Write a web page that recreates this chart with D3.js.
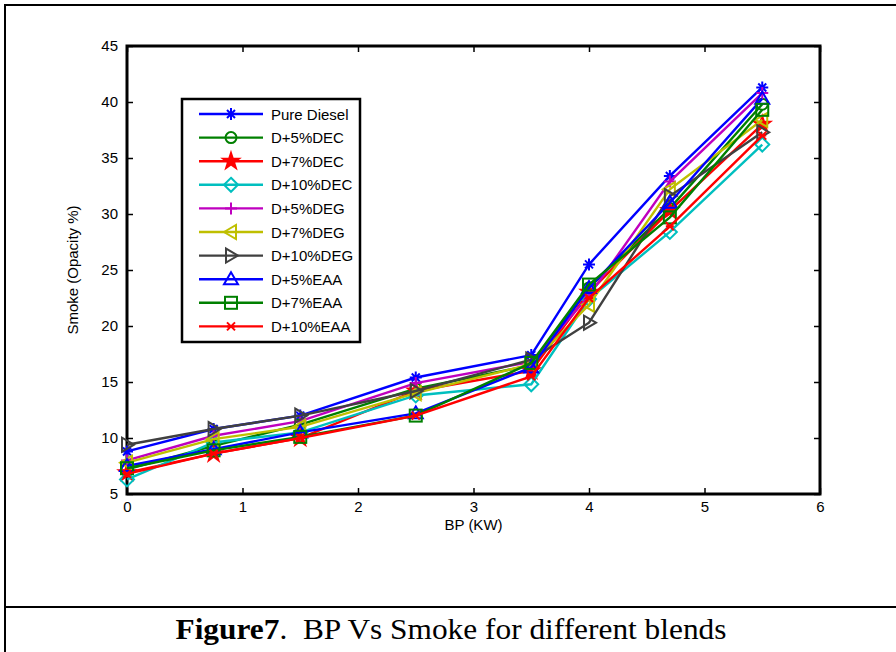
<!DOCTYPE html>
<html>
<head>
<meta charset="utf-8">
<script src="https://cdn.jsdelivr.net/npm/d3@7"></script>
<style>
  body { margin: 0; background: #fff; }
  svg text { font-family: "Liberation Sans", Arial, sans-serif; }
</style>
</head>
<body>
<svg id="chart" width="896" height="652"></svg>
<script>
// BP (KW) values on the x axis
const bp = [0, 0.75, 1.5, 2.5, 3.5, 4, 4.7, 5.5];

// smoke opacity (%) per blend
const pureDiesel = [8.8, 10.8, 12.0, 15.4, 17.4, 25.5, 33.4, 41.3];
const d5DEC      = [7.2, 9.3, 11.2, 14.4, 16.5, 23.4, 30.5, 39.8];
const d7DEC      = [6.9, 8.6, 10.0, 14.2, 16.0, 23.0, 30.3, 38.0];
const d10DEC     = [6.3, 9.6, 10.5, 13.8, 14.8, 22.4, 28.4, 36.2];
const d5DEG      = [8.0, 10.2, 11.5, 14.9, 16.8, 22.7, 32.9, 40.8];
const d7DEG      = [7.8, 9.9, 11.0, 14.0, 16.6, 21.9, 32.2, 38.4];
const d10DEG     = [9.4, 10.8, 12.0, 14.2, 17.0, 20.3, 31.6, 37.3];
const d5EAA      = [7.5, 9.0, 10.5, 12.2, 16.3, 23.4, 31.0, 40.3];
const d7EAA      = [7.3, 8.9, 10.1, 12.0, 16.7, 23.7, 29.7, 39.3];
const d10EAA     = [6.8, 8.6, 10.0, 12.0, 15.5, 22.5, 28.9, 37.0];

const names   = ['Pure Diesel', 'D+5%DEC', 'D+7%DEC', 'D+10%DEC', 'D+5%DEG',
                 'D+7%DEG', 'D+10%DEG', 'D+5%EAA', 'D+7%EAA', 'D+10%EAA'];
const colors  = ['#0000ff', '#008000', '#ff0000', '#00bfbf', '#bf00bf',
                 '#bfbf00', '#404040', '#0000ff', '#008000', '#ff0000'];
const markers = ['asterisk', 'circle', 'star', 'diamond', 'plus',
                 'left', 'right', 'up', 'square', 'x'];

const xTicks = [0, 1, 2, 3, 4, 5, 6];
const yTicks = [5, 10, 15, 20, 25, 30, 35, 40, 45];

const series = [pureDiesel, d5DEC, d7DEC, d10DEC, d5DEG, d7DEG, d10DEG, d5EAA, d7EAA, d10EAA]
    .map((vals, i) => ({
        name: names[i],
        color: colors[i],
        marker: markers[i],
        points: vals.map((v, j) => ({x: bp[j], y: v}))
    }));

const svg = d3.select('#chart');
const plot = {left: 127, right: 820, top: 46, bottom: 494};

// outer frame of the figure + caption row
svg.append('path')
    .attr('d', 'M5,652 L5,5 L896,5')
    .attr('fill', 'none').attr('stroke', '#000').attr('stroke-width', 2);
svg.append('line')
    .attr('x1', 5).attr('x2', 896).attr('y1', 607).attr('y2', 607)
    .attr('stroke', '#000').attr('stroke-width', 2);

const caption = svg.append('text')
    .attr('x', 451).attr('y', 639)
    .attr('text-anchor', 'middle')
    .attr('textLength', 551)
    .attr('lengthAdjust', 'spacingAndGlyphs')
    .style('font-family', '"Liberation Serif", "Times New Roman", serif')
    .style('font-size', '29px');
caption.append('tspan').attr('font-weight', 'bold').text('Figure7');
caption.append('tspan').text('.\u00a0 BP Vs Smoke for different blends');

const xScale = d3.scaleLinear().domain([0, 6]).range([plot.left, plot.right]);
const yScale = d3.scaleLinear().domain([5, 45]).range([plot.bottom, plot.top]);

// axes, ticks pointing inward like matlab
const xAxis = d3.axisBottom(xScale).tickValues(xTicks).tickSize(-6).tickPadding(7).tickFormat(d3.format('d'));
const yAxis = d3.axisLeft(yScale).tickValues(yTicks).tickSize(-6).tickPadding(9).tickFormat(d3.format('d'));

const gx = svg.append('g')
    .attr('transform', `translate(0, ${plot.bottom})`)
    .call(xAxis);
const gy = svg.append('g')
    .attr('transform', `translate(${plot.left}, 0)`)
    .call(yAxis);
const gxTop = svg.append('g')
    .attr('transform', `translate(0, ${plot.top})`)
    .call(d3.axisTop(xScale).tickValues(xTicks).tickSize(-6).tickFormat(''));
const gyRight = svg.append('g')
    .attr('transform', `translate(${plot.right}, 0)`)
    .call(d3.axisRight(yScale).tickValues(yTicks).tickSize(-6).tickFormat(''));

[gx, gy, gxTop, gyRight].forEach(g => {
    g.select('.domain').remove();
    g.selectAll('.tick line').attr('stroke', '#000').attr('stroke-width', 1.5);
    g.selectAll('text').style('font-size', '15px').attr('fill', '#000')
        .style('font-family', '"Liberation Sans", Arial, sans-serif');
});

svg.append('rect')
    .attr('x', plot.left).attr('y', plot.top)
    .attr('width', plot.right - plot.left).attr('height', plot.bottom - plot.top)
    .attr('fill', 'none').attr('stroke', '#000').attr('stroke-width', 3);

svg.append('text')
    .attr('x', (plot.left + plot.right) / 2).attr('y', 530)
    .attr('text-anchor', 'middle')
    .style('font-size', '15px')
    .text('BP (KW)');

svg.append('text')
    .attr('transform', `translate(78, ${(plot.top + plot.bottom) / 2}) rotate(-90)`)
    .attr('text-anchor', 'middle')
    .style('font-size', '15px')
    .text('Smoke (Opacity %)');

// marker drawing
function drawMarker(g, type, color) {
    const s = 6;
    const st = {fill: 'none', stroke: color, 'stroke-width': 2};
    let p;
    switch (type) {
        case 'circle':
            p = g.append('circle').attr('r', 5.5); break;
        case 'square':
            p = g.append('rect').attr('x', -6).attr('y', -6).attr('width', 12).attr('height', 12); break;
        case 'diamond':
            p = g.append('path').attr('d', `M0,-7L7,0L0,7L-7,0Z`); break;
        case 'up':
            p = g.append('path').attr('d', `M0,-7L7,5L-7,5Z`); break;
        case 'left':
            p = g.append('path').attr('d', `M-7,0L5,-7L5,7Z`); break;
        case 'right':
            p = g.append('path').attr('d', `M7,0L-5,-7L-5,7Z`); break;
        case 'plus':
            p = g.append('path').attr('d', `M-${s},0H${s}M0,-${s}V${s}`); break;
        case 'x':
            p = g.append('path').attr('d', `M-4,-4L4,4M-4,4L4,-4M-4,0H4`); break;
        case 'asterisk':
            p = g.append('path').attr('d', `M-${s},0H${s}M0,-${s}V${s}M-4,-4L4,4M-4,4L4,-4`); break;
        case 'star':
            p = g.append('path').attr('d', d3.symbol().type(d3.symbolStar).size(75)());
            st.fill = color; break;
    }
    Object.keys(st).forEach(k => p.attr(k, st[k]));
}

const line = d3.line().x(d => xScale(d.x)).y(d => yScale(d.y));

const plotArea = svg.append('g');
series.forEach(s => {
    plotArea.append('path')
        .datum(s.points)
        .attr('d', line)
        .attr('fill', 'none')
        .attr('stroke', s.color)
        .attr('stroke-width', 2.4);
    plotArea.selectAll(null)
        .data(s.points)
        .enter()
        .append('g')
            .attr('transform', d => `translate(${xScale(d.x)}, ${yScale(d.y)})`)
            .each(function() { drawMarker(d3.select(this), s.marker, s.color); });
});

// legend
const legend = svg.append('g').attr('transform', 'translate(182, 99)');
legend.append('rect')
    .attr('width', 178).attr('height', 243)
    .attr('fill', '#fff').attr('stroke', '#000').attr('stroke-width', 2.5);
series.forEach((s, i) => {
    const row = legend.append('g').attr('transform', `translate(0, ${15 + i * 23.6})`);
    row.append('line')
        .attr('x1', 17).attr('x2', 81)
        .attr('stroke', s.color).attr('stroke-width', 2.4);
    drawMarker(row.append('g').attr('transform', 'translate(49, 0)'), s.marker, s.color);
    row.append('text')
        .attr('x', 89).attr('y', 5.5)
        .style('font-size', '15px')
        .text(s.name);
});
</script>
</body>
</html>
